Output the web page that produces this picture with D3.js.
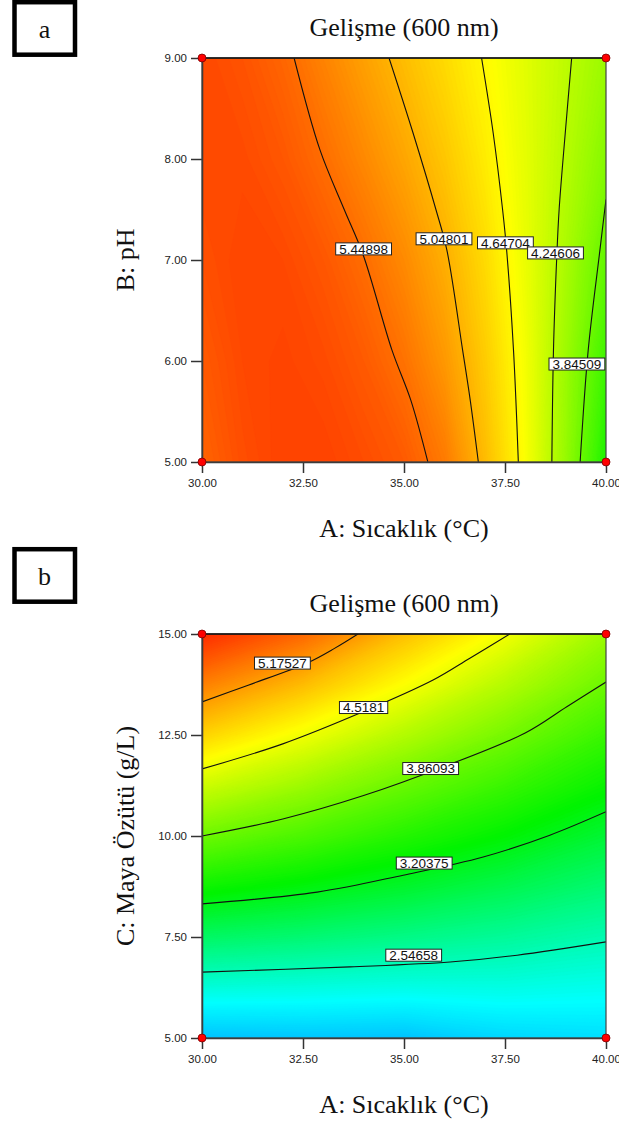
<!DOCTYPE html>
<html>
<head>
<meta charset="utf-8">
<title>Gelişme (600 nm) - contour plots</title>
<script src="https://d3js.org/d3.v7.min.js"></script>
<style>
    body { margin: 0; background: #fff; }
    .serif { font-family: "Times New Roman", "Liberation Serif", serif; font-size: 26px; fill: #111; }
    .lbl text { font-family: Arial, "Liberation Sans", sans-serif; font-size: 13.5px; fill: #111; }
</style>
</head>
<body>
<div id="chart"></div>
<script>

// ---- axes ----
var xTicks = [30, 32.5, 35, 37.5, 40];
var pHTicks = [5, 6, 7, 8, 9];
var yeastTicks = [5, 7.5, 10, 12.5, 15];

// ---- panel a : A (temperature) vs B (pH), response ----
var gridAx = [30, 31, 32, 33, 34, 35, 36, 37, 38, 39, 40];
var gridAy = [9, 8, 7, 6, 5];
var gridA = [
    5.66, 5.60, 5.49, 5.32, 5.15, 4.98, 4.81, 4.63, 4.45, 4.27, 4.09,
    5.66, 5.65, 5.58, 5.45, 5.29, 5.12, 4.93, 4.71, 4.47, 4.23, 3.98,
    5.62, 5.68, 5.66, 5.58, 5.45, 5.28, 5.07, 4.81, 4.50, 4.17, 3.80,
    5.56, 5.66, 5.69, 5.65, 5.56, 5.42, 5.20, 4.90, 4.55, 4.10, 3.62,
    5.50, 5.63, 5.70, 5.70, 5.64, 5.56, 5.37, 4.99, 4.58, 4.07, 3.45
];
var levelsA = [5.44898, 5.04801, 4.64704, 4.24606, 3.84509];
var linesA = [
    [[32.28, 9.0], [32.92, 8.09], [33.52, 7.50], [33.99, 7.05], [34.70, 6.11], [35.17, 5.61], [35.59, 5.0]],
    [[34.63, 9.0], [35.23, 8.25], [35.79, 7.50], [36.06, 7.10], [36.45, 6.11], [36.64, 5.61], [36.84, 5.0]],
    [[36.92, 9.0], [37.21, 8.25], [37.44, 7.50], [37.54, 7.10], [37.71, 6.11], [37.83, 5.0]],
    [[39.15, 9.0], [38.99, 8.25], [38.84, 7.50], [38.78, 7.02], [38.70, 6.11], [38.66, 5.0]],
    [[40.0, 7.6], [39.85, 7.10], [39.56, 6.11], [39.36, 5.0]]
];
var labelsA = [[34.0, 7.11], [35.99, 7.21], [37.51, 7.17], [38.75, 7.07], [39.28, 5.97]];
var designA = [[30, 5], [30, 9], [40, 5], [40, 9]];

// ---- panel b : A (temperature) vs C (yeast extract) ----
var gridBx = [30, 32.5, 35, 37.5, 40];
var gridBy = [15, 13.75, 12.5, 11.25, 10, 8.75, 7.5, 6.25, 5];
var gridB = [
    5.83, 5.48, 4.97, 4.54, 4.10,
    5.34, 4.99, 4.59, 4.22, 3.85,
    4.85, 4.53, 4.21, 3.90, 3.59,
    4.35, 4.10, 3.83, 3.59, 3.34,
    3.86, 3.68, 3.48, 3.29, 3.08,
    3.37, 3.25, 3.12, 2.98, 2.83,
    2.89, 2.83, 2.75, 2.67, 2.57,
    2.40, 2.38, 2.35, 2.36, 2.32,
    1.90, 1.92, 1.90, 2.02, 2.06
];
var levelsB = [5.17527, 4.5181, 3.86093, 3.20375, 2.54658];
var linesB = [
    [[30, 13.32], [31.16, 13.74], [32.62, 14.29], [33.29, 14.65], [33.86, 15]],
    [[30, 11.66], [32, 12.28], [34, 13.08], [35.72, 13.86], [36.63, 14.40], [37.62, 15.0]],
    [[30, 10.0], [32, 10.42], [34, 11.0], [36, 11.72], [38, 12.55], [39.03, 13.2], [40, 13.81]],
    [[30, 8.32], [32.85, 8.61], [34.98, 9.03], [36.96, 9.48], [38.61, 10.02], [40, 10.6]],
    [[30, 6.63], [33.66, 6.76], [36.14, 6.88], [37.8, 7.05], [40, 7.38]]
];
var labelsB = [[31.99, 14.28], [34.0, 13.18], [35.66, 11.67], [35.5, 9.33], [35.24, 7.05]];
var designB = [[30, 5], [30, 15], [40, 5], [40, 15]];

// rainbow like the design-expert palette
var color = d3.scaleLinear()
    .domain([1.6, 2.25, 3.3, 4.6, 5.85])
    .range(["#0090ff", "#00ffff", "#00f400", "#ffff00", "#ff2800"])
    .clamp(true);

var W = 619, H = 1128;
var svg = d3.select("#chart").append("svg")
    .attr("width", W)
    .attr("height", H);

var plotLeft = 202, plotSize = 404;

function drawPanel(p) {
    var top = p.top;
    var x = d3.scaleLinear().domain([30, 40]).range([0, plotSize]);
    var y = d3.scaleLinear().domain(p.yDomain).range([plotSize, 0]);

    // letter box
    svg.append("rect")
        .attr("x", 14.5).attr("y", p.boxTop + 2.2)
        .attr("width", 60.5).attr("height", 52.5)
        .attr("fill", "none").attr("stroke", "#000").attr("stroke-width", 4.5);
    svg.append("text")
        .attr("class", "serif")
        .attr("x", 44.5).attr("y", p.boxTop + 37.5)
        .attr("text-anchor", "middle")
        .text(p.letter);

    var g = svg.append("g")
        .attr("transform", "translate(" + plotLeft + "," + top + ")");

    // title
    g.append("text")
        .attr("class", "serif")
        .attr("x", plotSize / 2).attr("y", -22)
        .attr("text-anchor", "middle")
        .text("Gelişme (600 nm)");

    var clipId = "clip" + p.letter;
    g.append("clipPath").attr("id", clipId)
        .append("rect").attr("width", plotSize).attr("height", plotSize);

    var body = g.append("g").attr("clip-path", "url(#" + clipId + ")");

    // filled colour bands
    var nx = p.gx.length, ny = p.gy.length;
    var gx0 = p.gx[0], gdx = p.gx[1] - p.gx[0];
    var gy0 = p.gy[0], gdy = p.gy[1] - p.gy[0];
    var proj = d3.geoTransform({
        point: function (cx, cy) {
            this.stream.point(x(gx0 + (cx - 0.5) * gdx), y(gy0 + (cy - 0.5) * gdy));
        }
    });
    var path = d3.geoPath(proj);
    var step = 0.02;
    var bands = d3.contours()
        .size([nx, ny])
        .thresholds(d3.range(1.5, 6.0, step))(p.grid);

    body.append("rect")
        .attr("width", plotSize).attr("height", plotSize)
        .attr("fill", color(d3.min(p.grid)));
    body.selectAll("path.band")
        .data(bands)
        .join("path")
        .attr("class", "band")
        .attr("d", path)
        .attr("fill", function (d) { return color(d.value + step / 2); })
        .attr("stroke", function (d) { return color(d.value + step / 2); })
        .attr("stroke-width", 0.3);

    // contour lines
    var line = d3.line()
        .x(function (d) { return x(d[0]); })
        .y(function (d) { return y(d[1]); })
        .curve(d3.curveCatmullRom.alpha(0.5));
    body.selectAll("path.ctr")
        .data(p.lines)
        .join("path")
        .attr("class", "ctr")
        .attr("d", line)
        .attr("fill", "none")
        .attr("stroke", "#111")
        .attr("stroke-width", 1.1);

    // contour labels
    var lab = body.selectAll("g.lbl")
        .data(p.levels)
        .join("g")
        .attr("class", "lbl")
        .attr("transform", function (d, i) {
            return "translate(" + x(p.labels[i][0]) + "," + y(p.labels[i][1]) + ")";
        });
    var rects = lab.append("rect")
        .attr("fill", "#fff").attr("stroke", "#222").attr("stroke-width", 1);
    var texts = lab.append("text")
        .attr("text-anchor", "middle")
        .attr("y", 4.9)
        .text(function (d) { return String(d); });
    texts.each(function (d, i) {
        var tw = this.getComputedTextLength();
        d3.select(rects.nodes()[i])
            .attr("x", -tw / 2 - 3.5).attr("y", -6)
            .attr("width", tw + 7).attr("height", 12);
    });

    // axes
    var fmt = d3.format(".2f");
    var xAxis = g.append("g")
        .attr("transform", "translate(0," + plotSize + ")")
        .call(d3.axisBottom(x).tickValues(xTicks).tickFormat(fmt)
            .tickSize(11).tickSizeOuter(0).tickPadding(6));
    var yAxis = g.append("g")
        .call(d3.axisLeft(y).tickValues(p.yTicks).tickFormat(fmt)
            .tickSize(11).tickSizeOuter(0).tickPadding(4));
    [xAxis, yAxis].forEach(function (a) {
        a.attr("font-family", "Arial, 'Liberation Sans', sans-serif")
            .attr("font-size", 11.5);
        a.selectAll("text").attr("fill", "#222");
        a.selectAll("line").attr("stroke", "#333").attr("stroke-width", 1.5);
        a.select(".domain").attr("stroke", "#333").attr("stroke-width", 1.5);
    });

    // frame
    g.append("rect")
        .attr("width", plotSize).attr("height", plotSize)
        .attr("fill", "none").attr("stroke", "#444").attr("stroke-width", 1.2);
    g.append("line")
        .attr("x1", 0).attr("x2", plotSize)
        .attr("stroke", "#111").attr("stroke-width", 1.5);

    // design points
    g.selectAll("circle.dp")
        .data(p.design)
        .join("circle")
        .attr("class", "dp")
        .attr("cx", function (d) { return x(d[0]); })
        .attr("cy", function (d) { return y(d[1]); })
        .attr("r", 4)
        .attr("fill", "#ff0000")
        .attr("stroke", "#7a0000")
        .attr("stroke-width", 0.8);

    // axis titles
    g.append("text")
        .attr("class", "serif")
        .attr("x", plotSize / 2).attr("y", plotSize + 75)
        .attr("text-anchor", "middle")
        .text("A: Sıcaklık (°C)");
    g.append("text")
        .attr("class", "serif")
        .attr("transform", "translate(-68," + (plotSize / 2) + ") rotate(-90)")
        .attr("text-anchor", "middle")
        .text(p.yTitle);
}

drawPanel({
    letter: "a", boxTop: 0, top: 58,
    yDomain: [5, 9], yTicks: pHTicks, yTitle: "B: pH",
    gx: gridAx, gy: gridAy, grid: gridA,
    levels: levelsA, lines: linesA, labels: labelsA, design: designA
});

drawPanel({
    letter: "b", boxTop: 547, top: 634,
    yDomain: [5, 15], yTicks: yeastTicks, yTitle: "C: Maya Özütü (g/L)",
    gx: gridBx, gy: gridBy, grid: gridB,
    levels: levelsB, lines: linesB, labels: labelsB, design: designB
});

</script>
</body>
</html>
